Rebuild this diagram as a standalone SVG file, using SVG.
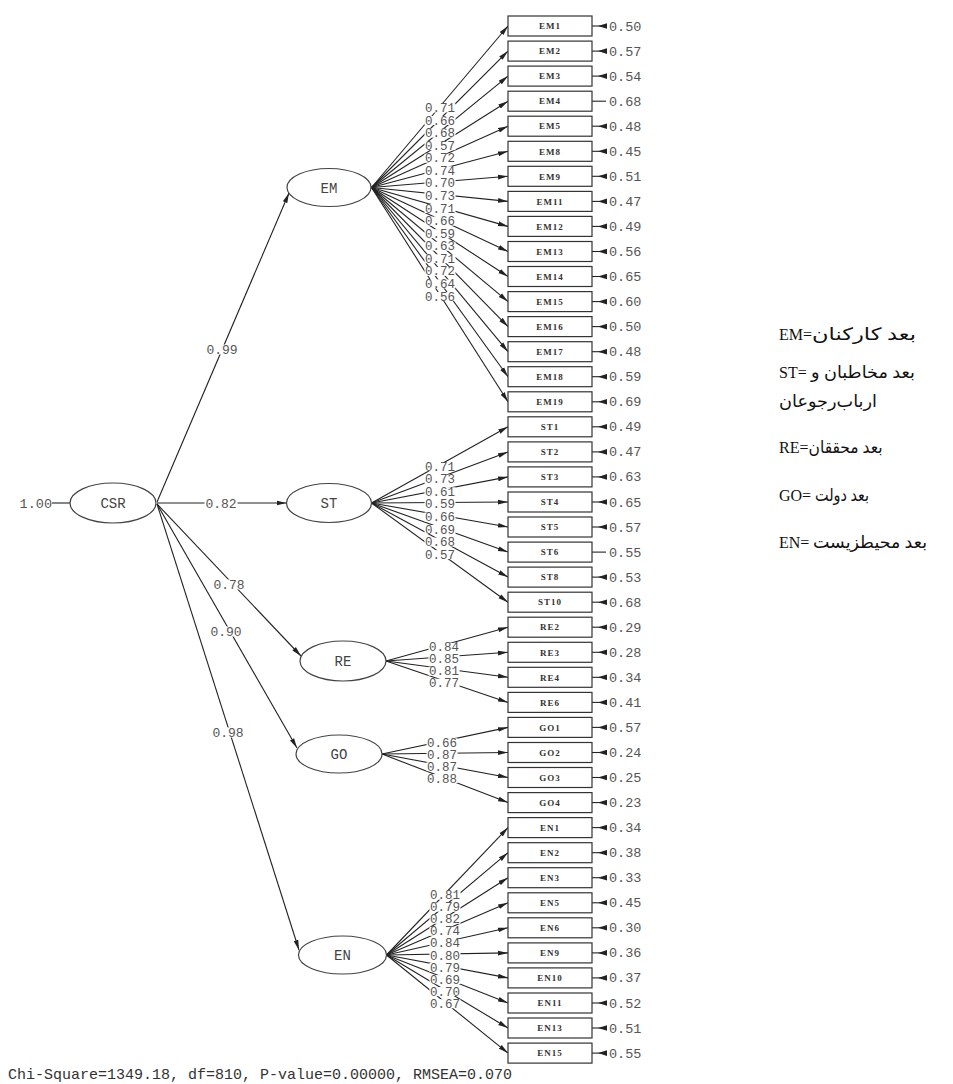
<svg xmlns="http://www.w3.org/2000/svg" width="953" height="1084" viewBox="0 0 953 1084">
<defs>
<style>
.ln{stroke:#222;stroke-width:1.1;fill:none}
.ar{marker-end:url(#ah)}
.er{stroke:#222;stroke-width:1.1;fill:none}
.em{marker-end:url(#eh)}
.bg rect{fill:#fff}
.lv{font-family:'Liberation Mono',monospace;font-size:12.5px;fill:#555;text-anchor:middle}
.sv{font-family:'Liberation Mono',monospace;font-size:13px;fill:#555;text-anchor:middle}
.ev{font-family:'Liberation Mono',monospace;font-size:13.5px;fill:#555}
.box rect{fill:#fff;stroke:#333;stroke-width:1.2}
.box text{font-family:'Liberation Serif',serif;font-size:9px;font-weight:bold;fill:#333;text-anchor:middle;letter-spacing:1px}
.lat ellipse{fill:#fff;stroke:#444;stroke-width:1.2}
.lat text{font-family:'Liberation Mono',monospace;font-size:14px;fill:#444;text-anchor:middle}
.lt{font-family:'Liberation Serif',serif;font-size:16px;fill:#111}
.fa{font-family:'Liberation Serif','DejaVu Sans',serif;font-size:17px;fill:#111}
.fit{font-family:'Liberation Mono',monospace;font-size:15px;fill:#333}
</style>
<marker id="ah" markerUnits="userSpaceOnUse" markerWidth="10" markerHeight="6" refX="10" refY="3" orient="auto"><path d="M0,0.6 L10,3 L0,5.4 z" fill="#222"/></marker>
<marker id="eh" markerUnits="userSpaceOnUse" markerWidth="9" markerHeight="6" refX="9" refY="3" orient="auto"><path d="M9,0.2 L0,3 L9,5.8 z" fill="#222"/></marker>
</defs>
<rect width="953" height="1084" fill="#fff"/>

<g id="connectors">
<!-- CSR variance -->
<line class="ln" x1="52" y1="503" x2="70" y2="503"/>
<!-- structural paths -->
<line class="ln ar" x1="157" y1="502" x2="289" y2="193"/>
<line class="ln ar" x1="157" y1="503" x2="286.5" y2="503"/>
<line class="ln ar" x1="157" y1="504" x2="301" y2="656"/>
<line class="ln ar" x1="157" y1="504" x2="297" y2="748"/>
<line class="ln ar" x1="157" y1="504" x2="299" y2="950"/>
<!-- EM loadings -->
<g>
<line class="ln ar" x1="371.5" y1="187.5" x2="508" y2="26"/>
<line class="ln ar" x1="371.5" y1="187.5" x2="508" y2="51.1"/>
<line class="ln ar" x1="371.5" y1="187.5" x2="508" y2="76.1"/>
<line class="ln ar" x1="371.5" y1="187.5" x2="508" y2="101.2"/>
<line class="ln ar" x1="371.5" y1="187.5" x2="508" y2="126.2"/>
<line class="ln ar" x1="371.5" y1="187.5" x2="508" y2="151.3"/>
<line class="ln ar" x1="371.5" y1="187.5" x2="508" y2="176.3"/>
<line class="ln ar" x1="371.5" y1="187.5" x2="508" y2="201.4"/>
<line class="ln ar" x1="371.5" y1="187.5" x2="508" y2="226.4"/>
<line class="ln ar" x1="371.5" y1="187.5" x2="508" y2="251.5"/>
<line class="ln ar" x1="371.5" y1="187.5" x2="508" y2="276.5"/>
<line class="ln ar" x1="371.5" y1="187.5" x2="508" y2="301.6"/>
<line class="ln ar" x1="371.5" y1="187.5" x2="508" y2="326.6"/>
<line class="ln ar" x1="371.5" y1="187.5" x2="508" y2="351.7"/>
<line class="ln ar" x1="371.5" y1="187.5" x2="508" y2="376.7"/>
<line class="ln ar" x1="371.5" y1="187.5" x2="508" y2="401.8"/>
</g>
<!-- ST loadings -->
<g>
<line class="ln ar" x1="371.5" y1="503" x2="508" y2="426.8"/>
<line class="ln ar" x1="371.5" y1="503" x2="508" y2="451.9"/>
<line class="ln ar" x1="371.5" y1="503" x2="508" y2="476.9"/>
<line class="ln ar" x1="371.5" y1="503" x2="508" y2="502"/>
<line class="ln ar" x1="371.5" y1="503" x2="508" y2="527"/>
<line class="ln ar" x1="371.5" y1="503" x2="508" y2="552.1"/>
<line class="ln ar" x1="371.5" y1="503" x2="508" y2="577.1"/>
<line class="ln ar" x1="371.5" y1="503" x2="508" y2="602.2"/>
</g>
<!-- RE loadings -->
<g>
<line class="ln ar" x1="386" y1="661" x2="508" y2="627.2"/>
<line class="ln ar" x1="386" y1="661" x2="508" y2="652.3"/>
<line class="ln ar" x1="386" y1="661" x2="508" y2="677.3"/>
<line class="ln ar" x1="386" y1="661" x2="508" y2="702.4"/>
</g>
<!-- GO loadings -->
<g>
<line class="ln ar" x1="382" y1="754" x2="508" y2="727.4"/>
<line class="ln ar" x1="382" y1="754" x2="508" y2="752.5"/>
<line class="ln ar" x1="382" y1="754" x2="508" y2="777.5"/>
<line class="ln ar" x1="382" y1="754" x2="508" y2="802.6"/>
</g>
<!-- EN loadings -->
<g>
<line class="ln ar" x1="386.5" y1="955" x2="508" y2="827.6"/>
<line class="ln ar" x1="386.5" y1="955" x2="508" y2="852.7"/>
<line class="ln ar" x1="386.5" y1="955" x2="508" y2="877.7"/>
<line class="ln ar" x1="386.5" y1="955" x2="508" y2="902.8"/>
<line class="ln ar" x1="386.5" y1="955" x2="508" y2="927.8"/>
<line class="ln ar" x1="386.5" y1="955" x2="508" y2="952.9"/>
<line class="ln ar" x1="386.5" y1="955" x2="508" y2="977.9"/>
<line class="ln ar" x1="386.5" y1="955" x2="508" y2="1003"/>
<line class="ln ar" x1="386.5" y1="955" x2="508" y2="1028"/>
<line class="ln ar" x1="386.5" y1="955" x2="508" y2="1053.1"/>
</g>
<!-- error terms -->
<g>
<line class="er em" x1="592" y1="26" x2="607" y2="26"/>
<line class="er em" x1="592" y1="51.1" x2="607" y2="51.1"/>
<line class="er em" x1="592" y1="76.1" x2="607" y2="76.1"/>
<line class="er" x1="592" y1="101.2" x2="606" y2="101.2"/>
<line class="er em" x1="592" y1="126.2" x2="607" y2="126.2"/>
<line class="er em" x1="592" y1="151.3" x2="607" y2="151.3"/>
<line class="er em" x1="592" y1="176.3" x2="607" y2="176.3"/>
<line class="er em" x1="592" y1="201.4" x2="607" y2="201.4"/>
<line class="er em" x1="592" y1="226.4" x2="607" y2="226.4"/>
<line class="er em" x1="592" y1="251.5" x2="607" y2="251.5"/>
<line class="er em" x1="592" y1="276.5" x2="607" y2="276.5"/>
<line class="er em" x1="592" y1="301.6" x2="607" y2="301.6"/>
<line class="er em" x1="592" y1="326.6" x2="607" y2="326.6"/>
<line class="er em" x1="592" y1="351.7" x2="607" y2="351.7"/>
<line class="er em" x1="592" y1="376.7" x2="607" y2="376.7"/>
<line class="er em" x1="592" y1="401.8" x2="607" y2="401.8"/>
<line class="er em" x1="592" y1="426.8" x2="607" y2="426.8"/>
<line class="er em" x1="592" y1="451.9" x2="607" y2="451.9"/>
<line class="er em" x1="592" y1="476.9" x2="607" y2="476.9"/>
<line class="er em" x1="592" y1="502" x2="607" y2="502"/>
<line class="er em" x1="592" y1="527" x2="607" y2="527"/>
<line class="er" x1="592" y1="552.1" x2="606" y2="552.1"/>
<line class="er em" x1="592" y1="577.1" x2="607" y2="577.1"/>
<line class="er em" x1="592" y1="602.2" x2="607" y2="602.2"/>
<line class="er em" x1="592" y1="627.2" x2="607" y2="627.2"/>
<line class="er em" x1="592" y1="652.3" x2="607" y2="652.3"/>
<line class="er em" x1="592" y1="677.3" x2="607" y2="677.3"/>
<line class="er em" x1="592" y1="702.4" x2="607" y2="702.4"/>
<line class="er em" x1="592" y1="727.4" x2="607" y2="727.4"/>
<line class="er em" x1="592" y1="752.5" x2="607" y2="752.5"/>
<line class="er em" x1="592" y1="777.5" x2="607" y2="777.5"/>
<line class="er em" x1="592" y1="802.6" x2="607" y2="802.6"/>
<line class="er em" x1="592" y1="827.6" x2="607" y2="827.6"/>
<line class="er em" x1="592" y1="852.7" x2="607" y2="852.7"/>
<line class="er em" x1="592" y1="877.7" x2="607" y2="877.7"/>
<line class="er em" x1="592" y1="902.8" x2="607" y2="902.8"/>
<line class="er em" x1="592" y1="927.8" x2="607" y2="927.8"/>
<line class="er em" x1="592" y1="952.9" x2="607" y2="952.9"/>
<line class="er em" x1="592" y1="977.9" x2="607" y2="977.9"/>
<line class="er em" x1="592" y1="1003" x2="607" y2="1003"/>
<line class="er em" x1="592" y1="1028" x2="607" y2="1028"/>
<line class="er em" x1="592" y1="1053.1" x2="607" y2="1053.1"/>
</g>
<!-- white plates that break the lines behind coefficient labels -->
<g class="bg">
<rect x="205.5" y="344.5" width="33" height="10"/>
<rect x="204.5" y="498.5" width="33" height="10"/>
<rect x="212.5" y="579.5" width="33" height="10"/>
<rect x="209.5" y="626.5" width="33" height="10"/>
<rect x="211.5" y="727.5" width="33" height="10"/>
<rect x="424.5" y="103.5" width="31" height="9"/>
<rect x="424.5" y="116" width="31" height="9"/>
<rect x="424.5" y="128.6" width="31" height="9"/>
<rect x="424.5" y="141.2" width="31" height="9"/>
<rect x="424.5" y="153.7" width="31" height="9"/>
<rect x="424.5" y="166.3" width="31" height="9"/>
<rect x="424.5" y="178.9" width="31" height="9"/>
<rect x="424.5" y="191.5" width="31" height="9"/>
<rect x="424.5" y="204" width="31" height="9"/>
<rect x="424.5" y="216.6" width="31" height="9"/>
<rect x="424.5" y="229.2" width="31" height="9"/>
<rect x="424.5" y="241.7" width="31" height="9"/>
<rect x="424.5" y="254.3" width="31" height="9"/>
<rect x="424.5" y="266.9" width="31" height="9"/>
<rect x="424.5" y="279.4" width="31" height="9"/>
<rect x="424.5" y="292" width="31" height="9"/>
<rect x="424.5" y="462.1" width="31" height="9"/>
<rect x="424.5" y="474.7" width="31" height="9"/>
<rect x="424.5" y="487.3" width="31" height="9"/>
<rect x="424.5" y="499.8" width="31" height="9"/>
<rect x="424.5" y="512.4" width="31" height="9"/>
<rect x="424.5" y="525" width="31" height="9"/>
<rect x="424.5" y="537.5" width="31" height="9"/>
<rect x="424.5" y="550.1" width="31" height="9"/>
<rect x="428.5" y="642.9" width="31" height="9"/>
<rect x="428.5" y="654.8" width="31" height="9"/>
<rect x="428.5" y="666.7" width="31" height="9"/>
<rect x="428.5" y="678.7" width="31" height="9"/>
<rect x="426.5" y="738.3" width="31" height="9"/>
<rect x="426.5" y="750.3" width="31" height="9"/>
<rect x="426.5" y="762.2" width="31" height="9"/>
<rect x="426.5" y="774.1" width="31" height="9"/>
<rect x="429.5" y="890.7" width="31" height="9"/>
<rect x="429.5" y="902.7" width="31" height="9"/>
<rect x="429.5" y="914.8" width="31" height="9"/>
<rect x="429.5" y="926.8" width="31" height="9"/>
<rect x="429.5" y="938.9" width="31" height="9"/>
<rect x="429.5" y="951" width="31" height="9"/>
<rect x="429.5" y="963" width="31" height="9"/>
<rect x="429.5" y="975.1" width="31" height="9"/>
<rect x="429.5" y="987.1" width="31" height="9"/>
<rect x="429.5" y="999.2" width="31" height="9"/>
</g>
<!-- path coefficients -->
<g>
<text class="sv" x="222" y="353.5">0.99</text>
<text class="sv" x="221" y="507.5">0.82</text>
<text class="sv" x="229" y="588.5">0.78</text>
<text class="sv" x="226" y="635.5">0.90</text>
<text class="sv" x="228" y="736.5">0.98</text>
</g>
<g>
<text class="lv" x="440" y="112">0.71</text>
<text class="lv" x="440" y="124.5">0.66</text>
<text class="lv" x="440" y="137.1">0.68</text>
<text class="lv" x="440" y="149.7">0.57</text>
<text class="lv" x="440" y="162.2">0.72</text>
<text class="lv" x="440" y="174.8">0.74</text>
<text class="lv" x="440" y="187.4">0.70</text>
<text class="lv" x="440" y="200">0.73</text>
<text class="lv" x="440" y="212.5">0.71</text>
<text class="lv" x="440" y="225.1">0.66</text>
<text class="lv" x="440" y="237.7">0.59</text>
<text class="lv" x="440" y="250.2">0.63</text>
<text class="lv" x="440" y="262.8">0.71</text>
<text class="lv" x="440" y="275.4">0.72</text>
<text class="lv" x="440" y="287.9">0.64</text>
<text class="lv" x="440" y="300.5">0.56</text>
</g>
<g>
<text class="lv" x="440" y="470.6">0.71</text>
<text class="lv" x="440" y="483.2">0.73</text>
<text class="lv" x="440" y="495.8">0.61</text>
<text class="lv" x="440" y="508.3">0.59</text>
<text class="lv" x="440" y="520.9">0.66</text>
<text class="lv" x="440" y="533.5">0.69</text>
<text class="lv" x="440" y="546">0.68</text>
<text class="lv" x="440" y="558.6">0.57</text>
</g>
<g>
<text class="lv" x="444" y="651.4">0.84</text>
<text class="lv" x="444" y="663.3">0.85</text>
<text class="lv" x="444" y="675.2">0.81</text>
<text class="lv" x="444" y="687.2">0.77</text>
</g>
<g>
<text class="lv" x="442" y="746.8">0.66</text>
<text class="lv" x="442" y="758.8">0.87</text>
<text class="lv" x="442" y="770.7">0.87</text>
<text class="lv" x="442" y="782.6">0.88</text>
</g>
<g>
<text class="lv" x="445" y="899.2">0.81</text>
<text class="lv" x="445" y="911.2">0.79</text>
<text class="lv" x="445" y="923.3">0.82</text>
<text class="lv" x="445" y="935.3">0.74</text>
<text class="lv" x="445" y="947.4">0.84</text>
<text class="lv" x="445" y="959.5">0.80</text>
<text class="lv" x="445" y="971.5">0.79</text>
<text class="lv" x="445" y="983.6">0.69</text>
<text class="lv" x="445" y="995.6">0.70</text>
<text class="lv" x="445" y="1007.7">0.67</text>
</g>
<!-- error variances -->
<g class="ev">
<text x="609" y="30.5">0.50</text>
<text x="609" y="55.6">0.57</text>
<text x="609" y="80.6">0.54</text>
<text x="609" y="105.7">0.68</text>
<text x="609" y="130.7">0.48</text>
<text x="609" y="155.8">0.45</text>
<text x="609" y="180.8">0.51</text>
<text x="609" y="205.9">0.47</text>
<text x="609" y="230.9">0.49</text>
<text x="609" y="256">0.56</text>
<text x="609" y="281">0.65</text>
<text x="609" y="306.1">0.60</text>
<text x="609" y="331.1">0.50</text>
<text x="609" y="356.2">0.48</text>
<text x="609" y="381.2">0.59</text>
<text x="609" y="406.3">0.69</text>
<text x="609" y="431.3">0.49</text>
<text x="609" y="456.4">0.47</text>
<text x="609" y="481.4">0.63</text>
<text x="609" y="506.5">0.65</text>
<text x="609" y="531.5">0.57</text>
<text x="609" y="556.6">0.55</text>
<text x="609" y="581.6">0.53</text>
<text x="609" y="606.7">0.68</text>
<text x="609" y="631.7">0.29</text>
<text x="609" y="656.8">0.28</text>
<text x="609" y="681.8">0.34</text>
<text x="609" y="706.9">0.41</text>
<text x="609" y="731.9">0.57</text>
<text x="609" y="757">0.24</text>
<text x="609" y="782">0.25</text>
<text x="609" y="807.1">0.23</text>
<text x="609" y="832.1">0.34</text>
<text x="609" y="857.2">0.38</text>
<text x="609" y="882.2">0.33</text>
<text x="609" y="907.3">0.45</text>
<text x="609" y="932.3">0.30</text>
<text x="609" y="957.4">0.36</text>
<text x="609" y="982.4">0.37</text>
<text x="609" y="1007.5">0.52</text>
<text x="609" y="1032.5">0.51</text>
<text x="609" y="1057.6">0.55</text>
</g>
<text class="ev" x="52" y="508" text-anchor="end" font-size="14">1.00</text>
</g>

<!-- latent variables -->
<g id="CSR" class="lat"><ellipse cx="113" cy="503" rx="43" ry="20"/><text x="113" y="508">CSR</text></g>
<g id="EM" class="lat"><ellipse cx="329" cy="187.5" rx="42" ry="19"/><text x="329" y="192.5">EM</text></g>
<g id="ST" class="lat"><ellipse cx="329" cy="503" rx="42.5" ry="19.5"/><text x="329" y="508">ST</text></g>
<g id="RE" class="lat"><ellipse cx="343" cy="661" rx="43" ry="20"/><text x="343" y="666">RE</text></g>
<g id="GO" class="lat"><ellipse cx="339" cy="754" rx="43" ry="19"/><text x="339" y="759">GO</text></g>
<g id="EN" class="lat"><ellipse cx="342.5" cy="955" rx="44" ry="19"/><text x="342.5" y="960">EN</text></g>

<!-- observed indicators -->
<g id="EM1" class="box"><rect x="508" y="16" width="84" height="20"/><text x="550" y="29.2">EM1</text></g>
<g id="EM2" class="box"><rect x="508" y="41.1" width="84" height="20"/><text x="550" y="54.3">EM2</text></g>
<g id="EM3" class="box"><rect x="508" y="66.1" width="84" height="20"/><text x="550" y="79.3">EM3</text></g>
<g id="EM4" class="box"><rect x="508" y="91.2" width="84" height="20"/><text x="550" y="104.4">EM4</text></g>
<g id="EM5" class="box"><rect x="508" y="116.2" width="84" height="20"/><text x="550" y="129.4">EM5</text></g>
<g id="EM8" class="box"><rect x="508" y="141.3" width="84" height="20"/><text x="550" y="154.5">EM8</text></g>
<g id="EM9" class="box"><rect x="508" y="166.3" width="84" height="20"/><text x="550" y="179.5">EM9</text></g>
<g id="EM11" class="box"><rect x="508" y="191.4" width="84" height="20"/><text x="550" y="204.6">EM11</text></g>
<g id="EM12" class="box"><rect x="508" y="216.4" width="84" height="20"/><text x="550" y="229.6">EM12</text></g>
<g id="EM13" class="box"><rect x="508" y="241.5" width="84" height="20"/><text x="550" y="254.7">EM13</text></g>
<g id="EM14" class="box"><rect x="508" y="266.5" width="84" height="20"/><text x="550" y="279.7">EM14</text></g>
<g id="EM15" class="box"><rect x="508" y="291.6" width="84" height="20"/><text x="550" y="304.8">EM15</text></g>
<g id="EM16" class="box"><rect x="508" y="316.6" width="84" height="20"/><text x="550" y="329.8">EM16</text></g>
<g id="EM17" class="box"><rect x="508" y="341.7" width="84" height="20"/><text x="550" y="354.9">EM17</text></g>
<g id="EM18" class="box"><rect x="508" y="366.7" width="84" height="20"/><text x="550" y="379.9">EM18</text></g>
<g id="EM19" class="box"><rect x="508" y="391.8" width="84" height="20"/><text x="550" y="405">EM19</text></g>
<g id="ST1" class="box"><rect x="508" y="416.8" width="84" height="20"/><text x="550" y="430">ST1</text></g>
<g id="ST2" class="box"><rect x="508" y="441.9" width="84" height="20"/><text x="550" y="455.1">ST2</text></g>
<g id="ST3" class="box"><rect x="508" y="466.9" width="84" height="20"/><text x="550" y="480.1">ST3</text></g>
<g id="ST4" class="box"><rect x="508" y="492" width="84" height="20"/><text x="550" y="505.2">ST4</text></g>
<g id="ST5" class="box"><rect x="508" y="517" width="84" height="20"/><text x="550" y="530.2">ST5</text></g>
<g id="ST6" class="box"><rect x="508" y="542.1" width="84" height="20"/><text x="550" y="555.3">ST6</text></g>
<g id="ST8" class="box"><rect x="508" y="567.1" width="84" height="20"/><text x="550" y="580.3">ST8</text></g>
<g id="ST10" class="box"><rect x="508" y="592.2" width="84" height="20"/><text x="550" y="605.4">ST10</text></g>
<g id="RE2" class="box"><rect x="508" y="617.2" width="84" height="20"/><text x="550" y="630.4">RE2</text></g>
<g id="RE3" class="box"><rect x="508" y="642.3" width="84" height="20"/><text x="550" y="655.5">RE3</text></g>
<g id="RE4" class="box"><rect x="508" y="667.3" width="84" height="20"/><text x="550" y="680.5">RE4</text></g>
<g id="RE6" class="box"><rect x="508" y="692.4" width="84" height="20"/><text x="550" y="705.6">RE6</text></g>
<g id="GO1" class="box"><rect x="508" y="717.4" width="84" height="20"/><text x="550" y="730.6">GO1</text></g>
<g id="GO2" class="box"><rect x="508" y="742.5" width="84" height="20"/><text x="550" y="755.7">GO2</text></g>
<g id="GO3" class="box"><rect x="508" y="767.5" width="84" height="20"/><text x="550" y="780.7">GO3</text></g>
<g id="GO4" class="box"><rect x="508" y="792.6" width="84" height="20"/><text x="550" y="805.8">GO4</text></g>
<g id="EN1" class="box"><rect x="508" y="817.6" width="84" height="20"/><text x="550" y="830.8">EN1</text></g>
<g id="EN2" class="box"><rect x="508" y="842.7" width="84" height="20"/><text x="550" y="855.9">EN2</text></g>
<g id="EN3" class="box"><rect x="508" y="867.7" width="84" height="20"/><text x="550" y="880.9">EN3</text></g>
<g id="EN5" class="box"><rect x="508" y="892.8" width="84" height="20"/><text x="550" y="906">EN5</text></g>
<g id="EN6" class="box"><rect x="508" y="917.8" width="84" height="20"/><text x="550" y="931">EN6</text></g>
<g id="EN9" class="box"><rect x="508" y="942.9" width="84" height="20"/><text x="550" y="956.1">EN9</text></g>
<g id="EN10" class="box"><rect x="508" y="967.9" width="84" height="20"/><text x="550" y="981.1">EN10</text></g>
<g id="EN11" class="box"><rect x="508" y="993" width="84" height="20"/><text x="550" y="1006.2">EN11</text></g>
<g id="EN13" class="box"><rect x="508" y="1018" width="84" height="20"/><text x="550" y="1031.2">EN13</text></g>
<g id="EN15" class="box"><rect x="508" y="1043.1" width="84" height="20"/><text x="550" y="1056.3">EN15</text></g>

<!-- legend: Latin code, then the Persian name -->
<g id="legend">
<text class="lt" x="779" y="340">EM=</text>
<text class="fa" x="812" y="340" textLength="104" lengthAdjust="spacingAndGlyphs">بعد کارکنان</text>
<text class="lt" x="779" y="378">ST=</text>
<text class="fa" x="811" y="378" textLength="104" lengthAdjust="spacingAndGlyphs">بعد مخاطبان و</text>
<text class="fa" x="779" y="407" textLength="98" lengthAdjust="spacingAndGlyphs">ارباب‌رجوعان</text>
<text class="lt" x="779" y="453">RE=</text>
<text class="fa" x="808.5" y="453" textLength="74" lengthAdjust="spacingAndGlyphs">بعد محققان</text>
<text class="lt" x="779" y="501">GO=</text>
<text class="fa" x="815" y="501" textLength="54" lengthAdjust="spacingAndGlyphs">بعد دولت</text>
<text class="lt" x="779" y="548">EN=</text>
<text class="fa" x="813" y="548" textLength="114" lengthAdjust="spacingAndGlyphs">بعد محیطزیست</text>
</g>

<!-- fit statistics -->
<text id="fit" class="fit" x="8" y="1079">Chi-Square=1349.18, df=810, P-value=0.00000, RMSEA=0.070</text>
</svg>
